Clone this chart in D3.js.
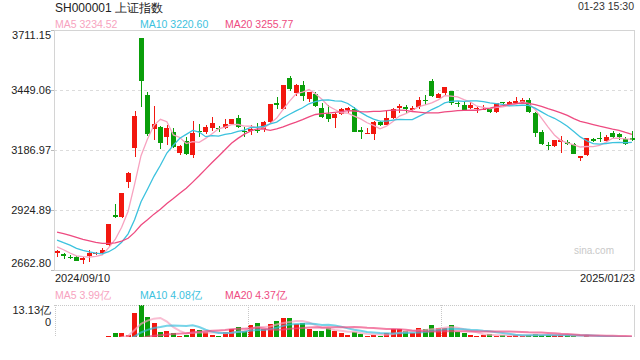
<!DOCTYPE html>
<html>
<head>
<meta charset="utf-8">
<script src="https://cdn.jsdelivr.net/npm/d3@7"></script>
<style>
body{margin:0;background:#fff;}
svg{display:block;font-family:"Liberation Sans",Arial,sans-serif;}
</style>
</head>
<body>
<script>
// trading days 2024/09/10 .. 2025/01/23
var dates = ["2024/09/10","09/11","09/12","09/13","09/18","09/19","09/20","09/23","09/24","09/25","09/26","09/27","09/30",
  "10/08","10/09","10/10","10/11","10/14","10/15","10/16","10/17","10/18","10/21","10/22","10/23","10/24","10/25","10/28","10/29","10/30","10/31",
  "11/01","11/04","11/05","11/06","11/07","11/08","11/11","11/12","11/13","11/14","11/15","11/18","11/19","11/20","11/21","11/22","11/25","11/26","11/27","11/28","11/29",
  "12/02","12/03","12/04","12/05","12/06","12/09","12/10","12/11","12/12","12/13","12/16","12/17","12/18","12/19","12/20","12/23","12/24","12/25","12/26","12/27","12/30","12/31",
  "01/02","01/03","01/06","01/07","01/08","01/09","01/10","01/13","01/14","01/15","01/16","01/17","01/20","01/21","01/22","2025/01/23"];

var openP = [2735,2733,2720,2718,2708,2726,2733,2735,2770,2901,2893,3049,3194,
  3674.4,3427,3279,3286,3242,3264,3172,3225,3165,3272,3265,3283,3284,3285,3300,3325,3271,3271,
  3276,3277,3310,3393,3368,3500,3435,3471,3408,3431,3369,3344,3328,3345,3360,3365,3274,3256,3257,3310,3296,
  3328,3372,3376,3362,3373,3405,3490,3416,3434,3444,3391,3382,3370,3364,3365,3365,3354,3395,3388,3392,3393,3406,
  3350,3267,3210,3206,3222,3222,3213,3150,3165,3233,3241,3226,3260,3257,3235,3238];
var highP = [2750,2735,2730,2722,2720,2750,2740,2757,2863.5,2952,3001,3092,3358,
  3674.4,3441,3379,3290,3296,3285,3210,3245,3315,3300,3296,3330,3293,3321,3324,3340,3289,3296,
  3303,3312,3388,3420,3471,3509,3474,3490,3441,3440,3391,3383,3347,3368.5,3374,3374,3289,3284,3312,3315,3358,
  3369,3388,3385,3378,3420,3427,3497,3437,3462,3446,3402,3395,3395,3375,3385,3372,3394,3398,3400,3417,3412,3412,
  3352,3274,3221,3231,3246,3230,3216,3162,3241,3240,3267,3252,3268,3262,3245,3270];
var lowP = [2718,2712,2712,2700,2690,2699,2730,2730,2768,2889,2889,3020,3155,
  3373,3246,3231,3190,3208,3195,3165,3165,3152,3242,3257,3271,3267,3279,3297,3282,3245,3252,
  3262,3267,3305,3364,3362,3446,3423,3402,3398,3376,3325,3310,3284,3338,3346,3265,3233,3255,3231,3290,3294,
  3321,3350,3350,3353,3365,3383,3420,3413,3429,3383,3376,3360,3366,3350,3362,3348,3350,3380,3385,3388,3388,3350,
  3243,3207,3187,3200,3175,3208,3168,3141,3160,3220,3223,3220,3238,3230,3207,3226];
var closeP = [2744.19,2721.80,2717.12,2704.09,2717.28,2736.02,2736.81,2748.92,2863.13,2896.31,3000.95,3087.53,3336.50,
  3489.78,3258.86,3301.93,3217.74,3284.32,3201.29,3202.95,3169.38,3261.56,3268.11,3285.87,3302.80,3280.26,3299.70,3322.20,3286.41,3266.24,3279.82,
  3272.01,3310.21,3386.99,3383.81,3470.66,3452.30,3470.07,3421.97,3439.28,3379.84,3330.73,3323.85,3346.01,3367.99,3370.40,3267.19,3263.76,3259.76,3309.78,3295.70,3326.46,
  3363.98,3378.81,3364.65,3368.86,3404.08,3402.53,3422.66,3432.49,3461.50,3391.88,3386.33,3361.49,3382.21,3370.03,3368.07,3351.26,3393.53,3393.35,3398.08,3400.14,3407.33,3351.76,
  3262.56,3211.43,3206.92,3229.64,3230.17,3211.39,3168.52,3160.76,3240.94,3227.12,3236.03,3241.82,3244.38,3242.62,3213.62,3230.16];
// volume, 亿
var volume = [2.3,2.2,2.1,2.1,2.4,2.6,2.9,2.4,4.5,5.25,5.25,4.6,10.9,
  13.13,9.75,8.06,5.6,5.8,5.3,4.5,4.6,6.4,6.1,5.5,4.6,4.4,5.5,6.5,7.0,5.8,7.5,
  8.06,6.3,7.8,8.6,9.5,9.5,7.7,8.0,6.4,5.8,5.8,6.7,5.8,5.3,4.6,5.6,5.06,4.5,4.6,4.3,5.3,
  6.3,6.3,5.8,5.25,6.6,6.4,7.5,6.6,6.6,7.5,5.6,5.25,4.6,4.5,4.6,4.9,4.5,4.6,4.5,4.6,4.5,4.65,
  5.06,4.68,4.65,4.6,4.68,4.68,4.3,4.0,4.6,4.0,3.95,4.1,4.0,4.0,3.9,3.95];

// the 19 sessions before 09/10, only used for the moving averages
var priorClose = [2850.65,2877.36,2879.43,2893.67,2866.66,2856.58,2848.77,2854.37,2855.52,2848.99,
  2837.43,2823.11,2842.21,2811.04,2802.98,2784.28,2788.27,2765.81,2736.85];
var priorVolume = [2.3,2.6,2.5,2.4,2.3,2.2,2.4,2.3,2.1,2.2,2.4,2.5,2.6,2.3,2.2,2.4,2.3,2.2,2.3];

var priceTicks = [3711.15,3449.06,3186.97,2924.89,2662.80];
var volTop = 13.13;
var maDays = [5,10,20];
var maColors = ["#f7a3c0","#3cc2de","#ee4b81"];

var upColor = "#f2170f";
var downColor = "#0a9e0a";

var width = 640, height = 360;
var svg = d3.select("body").append("svg")
  .attr("width",width)
  .attr("height",height);

var left = 54, right = 635;
var mainTop = 30, mainBottom = 270;
var volTopY = 305, volClip = 337;

var xScale = d3.scaleBand()
  .domain(d3.range(dates.length))
  .range([left,right])
  .paddingInner(0.25)
  .paddingOuter(0.1);
var bw = xScale.bandwidth();
var cx = function(i){ return xScale(i)+bw/2; };

var yScale = d3.scaleLinear()
  .domain([priceTicks[4],priceTicks[0]])
  .range([mainBottom,mainTop]);

var yVol = d3.scaleLinear()
  .domain([0,volTop])
  .range([351.7,volTopY]);

var movingAvg = function(prior,values,n)
{
  var all = prior.concat(values);
  return values.map(function(d,i){
    var end = i+prior.length;
    return d3.mean(all.slice(end-n+1,end+1));
  });
}

// ---------- header
svg.append("text").attr("x",55).attr("y",12)
  .attr("font-size",12).attr("fill","#222")
  .text("SH000001 上证指数");
svg.append("text").attr("x",634).attr("y",10)
  .attr("font-size",10.5).attr("fill","#333").attr("text-anchor","end")
  .text("01-23 15:30");

var legendX = [55,140,225];
var priceMA = maDays.map(function(n){ return movingAvg(priorClose,closeP,n); });
var volMA = maDays.map(function(n){ return movingAvg(priorVolume,volume,n); });

maDays.forEach(function(n,k){
  svg.append("text").attr("x",legendX[k]).attr("y",27.5)
    .attr("font-size",10.5).attr("fill",maColors[k])
    .text("MA"+n+" "+priceMA[k][priceMA[k].length-1].toFixed(2));
  svg.append("text").attr("x",legendX[k]).attr("y",298.5)
    .attr("font-size",10.5).attr("fill",maColors[k])
    .text("MA"+n+" "+volMA[k][volMA[k].length-1].toFixed(2)+"亿");
});

// ---------- main frame and grid
var grid = svg.append("g");
priceTicks.slice(1,4).forEach(function(t){
  grid.append("line")
    .attr("x1",left).attr("x2",634)
    .attr("y1",Math.round(yScale(t))+0.5).attr("y2",Math.round(yScale(t))+0.5)
    .attr("stroke","#dcdcdc").attr("stroke-dasharray","3,3");
});
grid.append("rect")
  .attr("x",left+0.5).attr("y",mainTop+0.5)
  .attr("width",634-left).attr("height",mainBottom-mainTop)
  .attr("fill","none").attr("stroke","#d4d4d4");
priceTicks.forEach(function(t,i){
  var y = Math.round(yScale(t))+0.5;
  grid.append("line").attr("x1",left-3).attr("x2",left).attr("y1",y).attr("y2",y)
    .attr("stroke","#bbb");
  var dy = 4;
  if (i==0) dy = 9;
  if (i==priceTicks.length-1) dy = -3;
  grid.append("text")
    .attr("x",51).attr("y",yScale(t)+dy)
    .attr("font-size",11).attr("fill","#222").attr("text-anchor","end")
    .text(t.toFixed(2));
});

svg.append("text").attr("x",574).attr("y",254)
  .attr("font-size",10).attr("fill","#c9c9c9")
  .text("sina.com");

// ---------- candles
var candles = svg.append("g").attr("shape-rendering","crispEdges");
closeP.forEach(function(c,i){
  var o = openP[i];
  var col = c>=o ? upColor : downColor;
  var xm = Math.round(cx(i))+0.5;
  candles.append("line")
    .attr("x1",xm).attr("x2",xm)
    .attr("y1",yScale(highP[i])).attr("y2",yScale(lowP[i]))
    .attr("stroke",col);
  var top = yScale(Math.max(o,c));
  candles.append("rect")
    .attr("x",Math.round(cx(i)-bw/2))
    .attr("y",top)
    .attr("width",Math.round(bw))
    .attr("height",Math.max(1,Math.abs(yScale(o)-yScale(c))))
    .attr("fill",col);
});

var priceLine = d3.line()
  .x(function(d,i){ return cx(i); })
  .y(function(d){ return yScale(d); });
priceMA.forEach(function(ma,k){
  svg.append("path").datum(ma)
    .attr("d",priceLine)
    .attr("fill","none")
    .attr("stroke",maColors[k])
    .attr("stroke-width",1.3);
});

// date labels
svg.append("text").attr("x",55).attr("y",282)
  .attr("font-size",11).attr("fill","#222").text(dates[0]);
svg.append("text").attr("x",635).attr("y",282)
  .attr("font-size",11).attr("fill","#222").attr("text-anchor","end").text(dates[dates.length-1]);

// ---------- volume panel
svg.append("defs").append("clipPath").attr("id","volClip")
  .append("rect").attr("x",left).attr("y",volTopY-2).attr("width",right-left).attr("height",volClip-volTopY+2);

var volG = svg.append("g").attr("clip-path","url(#volClip)");
volume.forEach(function(v,i){
  volG.append("rect")
    .attr("x",Math.round(cx(i)-bw/2))
    .attr("y",yVol(v))
    .attr("width",Math.round(bw))
    .attr("height",yVol(0)-yVol(v))
    .attr("fill",closeP[i]>=openP[i] ? upColor : downColor)
    .attr("shape-rendering","crispEdges");
});
var volLine = d3.line()
  .x(function(d,i){ return cx(i); })
  .y(function(d){ return yVol(d); });
volMA.forEach(function(ma,k){
  volG.append("path").datum(ma)
    .attr("d",volLine)
    .attr("fill","none")
    .attr("stroke",maColors[k])
    .attr("stroke-width",2)
    .attr("stroke-opacity",0.7);
});

svg.append("line").attr("x1",left).attr("x2",634).attr("y1",volTopY+0.5).attr("y2",volTopY+0.5)
  .attr("stroke","#c8c8c8").attr("stroke-dasharray","1,1");
[left+0.5, left+(right-left)/3, left+2*(right-left)/3].forEach(function(x){
  svg.append("line").attr("x1",Math.round(x)+0.5).attr("x2",Math.round(x)+0.5)
    .attr("y1",volTopY).attr("y2",volClip)
    .attr("stroke","#c8c8c8").attr("stroke-dasharray","1,1");
});
svg.append("line").attr("x1",634.5).attr("x2",634.5).attr("y1",volTopY).attr("y2",volClip)
  .attr("stroke","#d4d4d4");

svg.append("text").attr("x",51).attr("y",314)
  .attr("font-size",11).attr("fill","#222").attr("text-anchor","end")
  .text(volTop.toFixed(2)+"亿");
svg.append("text").attr("x",51).attr("y",326)
  .attr("font-size",11).attr("fill","#222").attr("text-anchor","end")
  .text("0");
</script>
</body>
</html>
